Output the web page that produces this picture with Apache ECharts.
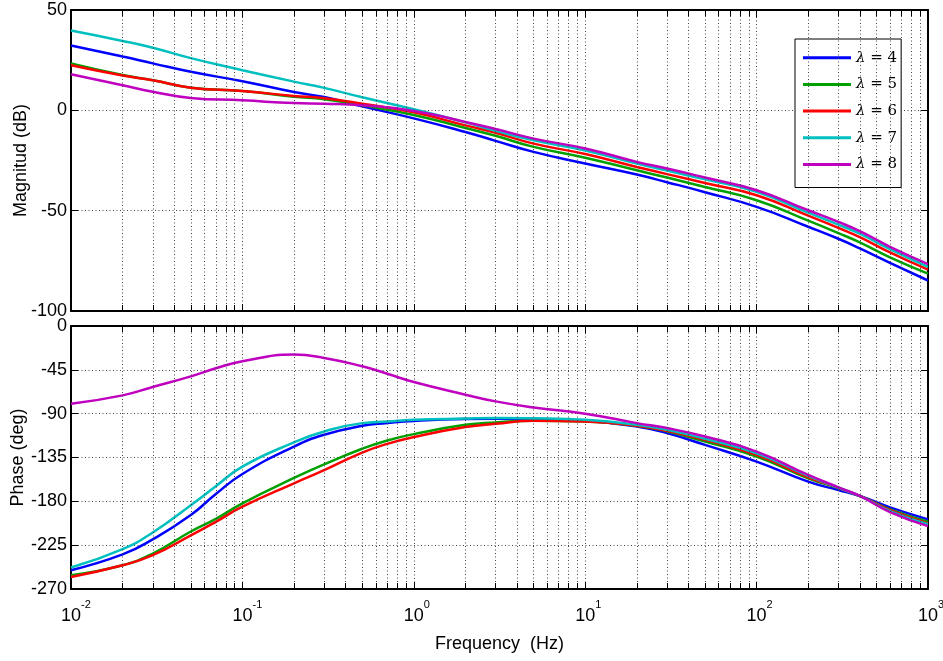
<!DOCTYPE html>
<html><head><meta charset="utf-8">
<script src="https://cdn.jsdelivr.net/npm/echarts@6/dist/echarts.min.js"></script>
<style>html,body{margin:0;padding:0;background:#fff}#c{width:943px;height:661px}</style>
</head><body><div id="c"></div>
<script>
// ---- data ----
const seriesNames = ['λ = 4', 'λ = 5', 'λ = 6', 'λ = 7', 'λ = 8'];
const seriesColors = ['#0000FF', '#00A000', '#FF0000', '#00BFBF', '#BF00BF'];

const magFreq = [0.01, 0.02, 0.03, 0.05, 0.1, 0.2, 0.3, 0.5, 1, 2, 3, 5, 10, 20, 30, 50, 100, 200, 300, 400, 600, 1000];
const mag4 = [32.3, 26.8, 23.4, 19.2, 14.5, 9.1, 6.6, 2, -4, -10.8, -15.2, -20.7, -26.5, -32, -35.8, -40.8, -48.1, -58, -64, -68.8, -76, -84.8];
const mag5 = [23.4, 17.6, 15, 11.3, 9.6, 6.8, 5.5, 2.5, -2.3, -8.8, -12.7, -18.2, -23.6, -29.9, -33.5, -38.2, -44.8, -55, -61.2, -65.8, -73.3, -81.4];
const mag6 = [22.5, 17.4, 15, 11.3, 9.6, 7.2, 6, 3.3, -1, -7.5, -11.2, -16.6, -21.8, -28.2, -31.8, -36.2, -42.3, -52.5, -58.6, -63.2, -70.8, -79.4];
const mag7 = [39.8, 34.6, 31.2, 26, 20, 14.3, 11.2, 6.5, 0.5, -6, -10.2, -14.9, -20, -26.5, -30, -34.4, -40.6, -51, -57, -61.5, -69.2, -78];
const mag8 = [18, 12.5, 9.3, 6.2, 5, 3.6, 3.3, 2.5, -0.3, -5.8, -9.3, -14.1, -19, -25.7, -29, -33.5, -39.8, -49.8, -55.6, -60.2, -68, -76.6];

const phaseFreq = [0.01, 0.02, 0.03, 0.05, 0.07, 0.1, 0.2, 0.3, 0.5, 0.7, 1, 2, 3, 5, 10, 20, 30, 50, 100, 200, 300, 400, 600, 1000];
const phase4 = [-250.7, -234.5, -219, -194, -172.5, -151.9, -123.8, -111.7, -102.5, -99.7, -97.5, -95.5, -95.2, -95.5, -97.3, -103.2, -110, -122, -139.2, -159.8, -168.4, -174.5, -186.2, -198.5];
const phase5 = [-255.9, -245.6, -233.6, -211, -198, -182, -156, -142, -126, -117.5, -111, -101.4, -99, -97.3, -98, -102.3, -108, -118.6, -134, -156.3, -166.5, -174.5, -188.3, -201];
const phase6 = [-257.6, -245.6, -235.3, -215, -201, -185.5, -161.5, -148, -130, -121, -114, -103.8, -100.4, -97.3, -98, -102.3, -107.6, -116.9, -132.3, -155.3, -166, -174.5, -189, -202.6];
const phase7 = [-248, -229, -212, -184, -164.5, -144.3, -119.5, -108.3, -99.7, -98, -96.3, -95, -94.5, -94.8, -96.3, -101.4, -106.6, -115.8, -130.6, -153.9, -166, -174.5, -190, -203.6];
const phase8 = [-79.8, -71.2, -62.6, -51.7, -43.4, -36.2, -29.3, -32.8, -41.4, -49, -57.5, -70.5, -77.4, -83.6, -90, -99.7, -104.8, -113.5, -128.9, -152.9, -165.6, -174.5, -191, -205.4];

const magLimits = [-100, 50], magStep = 50;
const phaseLimits = [-270, 0], phaseStep = 45;
const freqLimits = [0.01, 1000];
const decades = [0.01, 0.1, 1, 10, 100];
const minorMultipliers = [2, 3, 4, 5, 6, 7, 8, 9];

const magSets = [mag4, mag5, mag6, mag7, mag8];
const phaseSets = [phase4, phase5, phase6, phase7, phase8];

// ---- chart ----
const FONT = "'Liberation Sans', Arial, sans-serif";
const dotted = { color: '#444', width: 1, type: [1, 2.5] };
const minorVals = [];
decades.forEach(d => minorMultipliers.forEach(m => minorVals.push(+(d * m).toPrecision(3))));

function xAx(gridIndex, position, showLabel, showSplit) {
  return {
    type: 'log', logBase: 10, gridIndex, position,
    min: freqLimits[0], max: freqLimits[1],
    axisLine: { show: true, onZero: false, lineStyle: { color: '#000', width: 2 } },
    axisTick: { show: true, inside: true, length: 7, lineStyle: { color: '#000', width: 1 } },
    splitLine: { show: showSplit, lineStyle: dotted },
    axisLabel: {
      show: showLabel, margin: 10, color: '#000',
      formatter: function (v) {
        const e = Math.round(Math.log10(v));
        return '{' + (e < 0 ? 'pn' : 'pp') + '| }{b|10}{s|' + e + '}';
      },
      rich: {
        pn: { width: 10, fontSize: 11 },
        pp: { width: 6, fontSize: 11 },
        b: { fontSize: 18, fontFamily: FONT, color: '#000', lineHeight: 34 },
        s: { fontSize: 11, fontFamily: FONT, color: '#000', lineHeight: 11, verticalAlign: 'top' }
      }
    }
  };
}
function yAx(gridIndex, position, lim, step, showLabel, name, gap) {
  return {
    type: 'value', gridIndex, position, min: lim[0], max: lim[1], interval: step,
    name: name || '', nameLocation: 'middle', nameGap: gap || 40, nameRotate: 90, nameMoveOverlap: false,
    nameTextStyle: { fontFamily: FONT, fontSize: 18, color: '#000' },
    axisLine: { show: true, onZero: false, lineStyle: { color: '#000', width: 2 } },
    axisTick: { show: true, inside: true, length: 7, lineStyle: { color: '#000', width: 1 } },
    splitLine: { show: showLabel, lineStyle: dotted },
    axisLabel: { show: showLabel, margin: 4, fontFamily: FONT, fontSize: 18, color: '#000' }
  };
}

// minor grid + minor ticks (drawn through the axes' own scales)
function minorLayer(xi, yi, lim, tickLen) {
  const data = minorVals.map(v => ({ xAxis: v, lineStyle: dotted }));
  minorVals.forEach(v => {
    data.push([{ coord: [v, lim[0]], lineStyle: { type: 'solid', color: '#000', width: 1 } }, { coord: [v, lim[0] + tickLen] }]);
    data.push([{ coord: [v, lim[1]], lineStyle: { type: 'solid', color: '#000', width: 1 } }, { coord: [v, lim[1] - tickLen] }]);
  });
  return {
    type: 'line', xAxisIndex: xi, yAxisIndex: yi, data: [], z: 1, silent: true,
    markLine: { silent: true, symbol: 'none', label: { show: false }, animation: false, lineStyle: dotted, data: data }
  };
}

const series = [
  minorLayer(0, 0, magLimits, (magLimits[1] - magLimits[0]) * 6 / 301),
  minorLayer(2, 2, phaseLimits, (phaseLimits[1] - phaseLimits[0]) * 6 / 263)
];
seriesNames.forEach((nm, i) => {
  series.push({
    name: nm, type: 'line', xAxisIndex: 0, yAxisIndex: 0, showSymbol: false, symbol: 'none', z: 3,
    smooth: 0.5, lineStyle: { width: 2.5, color: seriesColors[i] }, itemStyle: { color: seriesColors[i] },
    data: magFreq.map((f, k) => [f, magSets[i][k]])
  });
});
seriesNames.forEach((nm, i) => {
  series.push({
    name: nm, type: 'line', xAxisIndex: 2, yAxisIndex: 2, showSymbol: false, symbol: 'none', z: 3,
    smooth: 0.5, lineStyle: { width: 2.5, color: seriesColors[i] }, itemStyle: { color: seriesColors[i] },
    data: phaseFreq.map((f, k) => [f, phaseSets[i][k]])
  });
});

const chart = echarts.init(document.getElementById('c'), null, { renderer: 'canvas' });
chart.setOption({
  animation: false,
  backgroundColor: '#fff',
  grid: [
    { left: 71, right: 15, top: 10, height: 301, containLabel: false, outerBoundsMode: 'none' },
    { left: 71, right: 15, top: 326, height: 263, containLabel: false, outerBoundsMode: 'none' }
  ],
  xAxis: [
    xAx(0, 'bottom', false, true),
    xAx(0, 'top', false, false),
    Object.assign(xAx(1, 'bottom', true, true), {
      name: 'Frequency  (Hz)', nameLocation: 'middle', nameGap: 46, nameMoveOverlap: false,
      nameTextStyle: { fontFamily: FONT, fontSize: 18, color: '#000' }
    }),
    xAx(1, 'top', false, false)
  ],
  yAxis: [
    yAx(0, 'left', magLimits, magStep, true, 'Magnitud (dB)', 40.5),
    yAx(0, 'right', magLimits, magStep, false),
    yAx(1, 'left', phaseLimits, phaseStep, true, 'Phase (deg)', 43.5),
    yAx(1, 'right', phaseLimits, phaseStep, false)
  ],
  legend: {
    orient: 'vertical', left: 795, top: 39,
    data: seriesNames, icon: 'rect', itemWidth: 48, itemHeight: 3, itemGap: 10.7,
    padding: [10.7, 4, 15, 8], backgroundColor: '#fff', borderColor: '#000', borderWidth: 1,
    textStyle: {
      fontFamily: "'DejaVu Serif', serif", fontSize: 15, color: '#000', lineHeight: 16,
      rich: { i: { fontStyle: 'italic', fontFamily: "'DejaVu Serif', serif", fontSize: 15, color: '#000', lineHeight: 16 } }
    },
    formatter: function (name) { return '{i|λ} = ' + name.split('= ')[1]; }
  },
  series: series
});
</script>
</body></html>
